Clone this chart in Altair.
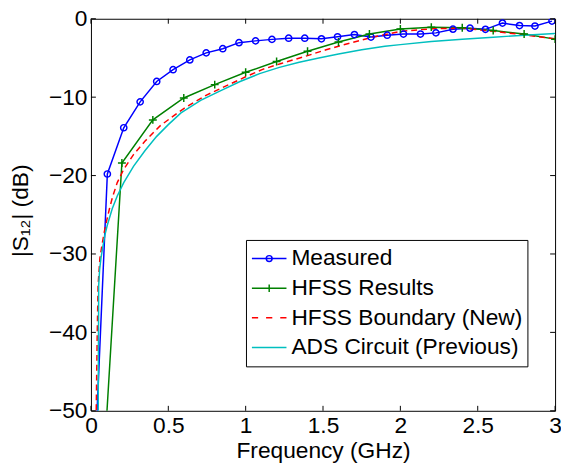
import altair as alt
import pandas as pd

# ---------------- data ----------------
series_names = ["Measured", "HFSS Results", "HFSS Boundary (New)", "ADS Circuit (Previous)"]
series_colors = ["#0000FF", "#008000", "#FF0000", "#00BFBF"]

meas_f = [0.0, 0.106, 0.212, 0.318, 0.425, 0.531, 0.639, 0.745, 0.852, 0.957,
          1.064, 1.17, 1.278, 1.382, 1.49, 1.594, 1.703, 1.81, 1.915, 2.02,
          2.13, 2.23, 2.34, 2.45, 2.55, 2.66, 2.77, 2.87, 2.98]
meas_db = [-68.0, -19.8, -13.9, -10.6, -8.0, -6.5, -5.25, -4.35, -3.82, -3.05,
           -2.82, -2.63, -2.48, -2.48, -2.56, -2.3, -2.02, -2.33, -2.1, -1.95,
           -1.95, -1.8, -1.33, -1.2, -1.35, -0.55, -0.87, -0.93, -0.3]

hfss_f = [0.0, 0.2, 0.4, 0.6, 0.8, 1.0, 1.2, 1.4, 1.6, 1.8, 2.0, 2.2, 2.4, 2.6, 2.8, 3.0]
hfss_db = [-84.0, -18.4, -12.9, -10.1, -8.4, -6.83, -5.46, -4.15, -2.96, -1.95,
           -1.3, -1.07, -1.15, -1.5, -1.95, -2.6]

bnd_f = [0.03, 0.034, 0.04, 0.046, 0.058, 0.07, 0.085, 0.1, 0.12, 0.14, 0.17,
         0.212, 0.276, 0.35, 0.45, 0.6, 0.75, 0.87, 1.0, 1.11, 1.23, 1.4, 1.52,
         1.6, 1.8, 2.0, 2.2, 2.4, 2.6, 2.8, 3.0]
bnd_db = [-60.0, -50.0, -41.0, -34.0, -30.5, -29.0, -27.3, -25.9, -24.2, -22.7, -20.9,
          -19.2, -17.3, -15.6, -13.6, -11.45, -9.7, -8.6, -7.4, -6.45, -5.7, -4.7, -3.95,
          -3.5, -2.45, -1.6, -1.28, -1.2, -1.6, -2.05, -2.55]

ads_f = [0.044, 0.047, 0.05, 0.056, 0.065, 0.075, 0.09, 0.106, 0.138, 0.17, 0.212,
         0.276, 0.35, 0.425, 0.5, 0.582, 0.709, 0.836, 0.964, 1.09, 1.218, 1.346,
         1.473, 1.6, 1.75, 1.9, 2.0, 2.2, 2.4, 2.6, 2.8, 3.0]
ads_db = [-60.0, -50.0, -34.0, -32.0, -30.5, -29.3, -27.6, -26.3, -24.2, -22.6, -20.9,
          -18.8, -16.8, -15.0, -13.5, -12.0, -10.4, -9.2, -8.0, -7.0, -6.2, -5.55,
          -5.0, -4.5, -3.95, -3.5, -3.3, -2.9, -2.6, -2.35, -2.1, -1.88]

x_ticks = [0, 0.5, 1, 1.5, 2, 2.5, 3]
y_ticks = [-50, -40, -30, -20, -10, 0]

# ---------------- tables ----------------
rows = []
for name, fs, ds in zip(series_names, [meas_f, hfss_f, bnd_f, ads_f],
                        [meas_db, hfss_db, bnd_db, ads_db]):
    for f, d in zip(fs, ds):
        rows.append({"series": name, "f": f, "db": d})
df = pd.DataFrame(rows)
xt = pd.DataFrame({"f": x_ticks})
yt = pd.DataFrame({"db": y_ticks})

FONT = "Liberation Sans"
FS = 23
W, H = 470, 397
xscale = alt.Scale(domain=[0, 3], nice=False, zero=False)
yscale = alt.Scale(domain=[-50, 0], nice=False, zero=False)

x_axis = alt.Axis(values=x_ticks, format="~g", title="Frequency (GHz)",
                  labelPadding=4, labelFlush=False, labelOverlap=False,
                  titleX=235, titleY=47, titleBaseline="alphabetic", titleAlign="center")
y_axis = alt.Axis(values=y_ticks, format="d", title="|S₁₂| (dB)",
                  labelPadding=4, labelFlush=False, labelOverlap=False,
                  titleX=-71, titleY=194, titleAngle=-90,
                  titleBaseline="middle", titleAlign="center")

x_enc = alt.X("f:Q", scale=xscale, axis=x_axis)
y_enc = alt.Y("db:Q", scale=yscale, axis=y_axis)

layers = []
for name, col in zip(series_names, series_colors):
    mk = dict(color=col, strokeWidth=1.5, clip=True)
    if name == "HFSS Boundary (New)":
        mk["strokeDash"] = [6, 4]
    layers.append(
        alt.Chart(df).transform_filter(alt.datum.series == name)
        .mark_line(**mk)
        .encode(x=x_enc, y=y_enc, order="f:Q")
    )

layers.append(
    alt.Chart(df).transform_filter(alt.datum.series == "Measured")
    .mark_point(shape="circle", size=40, filled=False, color="#0000FF",
                strokeWidth=1.5, opacity=1, clip=True)
    .encode(x=x_enc, y=y_enc)
)
layers.append(
    alt.Chart(df).transform_filter(alt.datum.series == "HFSS Results")
    .mark_point(shape="M-1,0L1,0M0,-1L0,1", size=64, filled=False, color="#008000",
                strokeWidth=1.5, opacity=1, clip=True)
    .encode(x=x_enc, y=y_enc)
)

# inward ticks on all four sides
layers.append(alt.Chart(xt).mark_rule(color="black", strokeWidth=1)
              .encode(x=x_enc, y=alt.value(H), y2=alt.value(H - 5)))
layers.append(alt.Chart(xt).mark_rule(color="black", strokeWidth=1)
              .encode(x=x_enc, y=alt.value(0), y2=alt.value(5)))
layers.append(alt.Chart(yt).mark_rule(color="black", strokeWidth=1)
              .encode(y=y_enc, x=alt.value(0), x2=alt.value(5)))
layers.append(alt.Chart(yt).mark_rule(color="black", strokeWidth=1)
              .encode(y=y_enc, x=alt.value(W), x2=alt.value(W - 5)))

# legend (symbols are wide paths: line + marker)
leg_shapes = [
    "M-1,0L1,0M-0.17,0A0.17,0.17,0,1,1,0.17,0A0.17,0.17,0,1,1,-0.17,0",
    "M-1,0L1,0M0,-0.22L0,0.22",
    "M-1,0L-0.64,0M-0.18,0L0.18,0M0.64,0L1,0",
    "M-1,0L1,0",
]
legend = alt.Legend(orient="none", legendX=157, legendY=224, title=None,
                    padding=5, strokeColor="black", fillColor="white",
                    labelFont=FONT, labelFontSize=FS, labelColor="black",
                    symbolSize=1225, symbolStrokeWidth=1.5, clipHeight=27.7,
                    rowPadding=2, labelOffset=4, labelLimit=400, symbolOpacity=1)
layers.append(
    alt.Chart(df).transform_filter("false")
    .mark_point(filled=False, opacity=1)
    .encode(x=x_enc, y=y_enc,
            color=alt.Color("series:N", scale=alt.Scale(domain=series_names, range=series_colors),
                            legend=legend),
            shape=alt.Shape("series:N", scale=alt.Scale(domain=series_names, range=leg_shapes),
                            legend=legend))
)

chart = (
    alt.layer(*layers)
    .properties(width=W, height=H, autosize=alt.AutoSizeParams(type="none"),
                padding={"left": 84, "top": 8, "right": 6, "bottom": 52},
                background="white")
    .configure_axis(domain=False, ticks=False, tickSize=0, grid=False,
                    labelFont=FONT, labelFontSize=FS, labelColor="black",
                    titleFont=FONT, titleFontSize=FS, titleColor="black",
                    titleFontWeight="normal")
    .configure_view(stroke="black", strokeWidth=1)
)

chart.save("out.html", embed_options={"renderer": "svg", "actions": False})
